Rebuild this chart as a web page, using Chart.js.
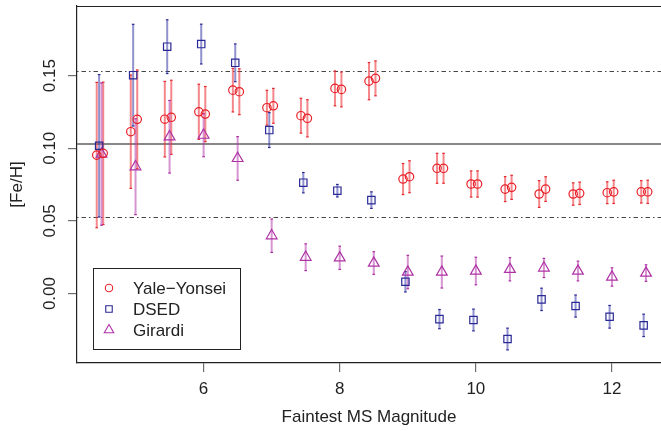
<!DOCTYPE html>
<html>
<head>
<meta charset="utf-8">
<style>
html,body{margin:0;padding:0;background:#fff;}
#wrap{width:661px;height:431px;position:relative;overflow:hidden;}
</style>
<script src="https://cdn.jsdelivr.net/npm/chart.js@4/dist/chart.umd.min.js"></script>
</head>
<body>
<div id="wrap"><canvas id="c" width="661" height="431"></canvas></div>
<script>
// ---------------- data ----------------
const magnitudes = [4.5, 5, 5.5, 6, 6.5, 7, 7.5, 8, 8.5, 9, 9.5, 10, 10.5, 11, 11.5, 12, 12.5];

// Yale-Yonsei (two estimates per magnitude)
const yaleA    = [0.0953, 0.1114, 0.1200, 0.1251, 0.1400, 0.1279, 0.1224, 0.1412, 0.1462, 0.0788, 0.0862, 0.0754, 0.0719, 0.0685, 0.0685, 0.0694, 0.0700];
const yaleAErr = [0.0500, 0.0390, 0.0260, 0.0190, 0.0150, 0.0120, 0.0120, 0.0120, 0.0128, 0.0107, 0.0103, 0.0090, 0.0086, 0.0092, 0.0077, 0.0075, 0.0077];
const yaleB    = [0.0965, 0.1199, 0.1213, 0.1235, 0.1389, 0.1292, 0.1206, 0.1405, 0.1481, 0.0804, 0.0862, 0.0754, 0.0731, 0.0719, 0.0690, 0.0700, 0.0700];
const yaleBErr = [0.0490, 0.0340, 0.0255, 0.0190, 0.0158, 0.0120, 0.0128, 0.0120, 0.0120, 0.0110, 0.0103, 0.0090, 0.0083, 0.0085, 0.0077, 0.0080, 0.0080];

// DSED
const dsed     = [0.1017, 0.1503, 0.1699, 0.1717, 0.1588, 0.1125, 0.0763, 0.0708, 0.0643, 0.0081, -0.0176, -0.0182, -0.0313, -0.0040, -0.0086, -0.0160, -0.0219];
const dsedErr  = [0.0490, 0.0350, 0.0185, 0.0137, 0.0130, 0.0120, 0.0070, 0.0043, 0.0057, 0.0070, 0.0066, 0.0075, 0.0075, 0.0077, 0.0076, 0.0078, 0.0077];

// Girardi
const girardi    = [0.0960, 0.0873, 0.1079, 0.1090, 0.0930, 0.0398, 0.0250, 0.0246, 0.0210, 0.0148, 0.0148, 0.0155, 0.0167, 0.0176, 0.0155, 0.0114, 0.0141];
const girardiErr = [0.0490, 0.0330, 0.0250, 0.0148, 0.0150, 0.0115, 0.0092, 0.0080, 0.0078, 0.0115, 0.0110, 0.0095, 0.0080, 0.0066, 0.0068, 0.0063, 0.0057];

const seriesNames = ["Yale\u2212Yonsei", "DSED", "Girardi"];

// reference levels
const meanLevel = [0.103];
const bandLevels = [0.153, 0.053];

// axes
const xTickValues = [6, 8, 10, 12];
const yTickValues = [0.00, 0.05, 0.10, 0.15];
const yTickLabels = ["0.00", "0.05", "0.10", "0.15"];
const xTitle = "Faintest MS Magnitude";
const yTitle = "[Fe/H]";

// ---------------- styling ----------------
const FONT = "'Liberation Sans', Arial, Helvetica, sans-serif";
const FS = 17;
const RED = 'rgb(232,32,40)', RED_BAR = 'rgba(238,55,62,0.6)', RED_CAP = 'rgb(225,40,45)';
const BLUE = 'rgb(40,40,150)', BLUE_BAR = 'rgba(55,55,165,0.55)', BLUE_CAP = 'rgb(40,40,150)';
const PURP = 'rgb(175,50,165)', PURP_BAR = 'rgba(180,60,170,0.55)', PURP_CAP = 'rgb(170,45,160)';

// small horizontal dodge so the series do not overlap (as in the reference)
const dodge = { yaleA: -0.07, yaleB: 0.025, dsed: -0.035, girardi: 0 };

function build(vals, errs, dx) {
  return magnitudes.map((m, i) => ({ x: m + dx, y: vals[i], err: errs[i] }));
}

const datasets = [
  { label: seriesNames[0], data: build(yaleA, yaleAErr, dodge.yaleA), pointStyle: 'circle', pointRadius: 4.2,
    borderColor: RED, backgroundColor: 'rgba(0,0,0,0)', pointBorderWidth: 1.2, barColor: RED_BAR, capColor: RED_CAP, showInLegend: true },
  { label: seriesNames[0], data: build(yaleB, yaleBErr, dodge.yaleB), pointStyle: 'circle', pointRadius: 4.2,
    borderColor: RED, backgroundColor: 'rgba(0,0,0,0)', pointBorderWidth: 1.2, barColor: RED_BAR, capColor: RED_CAP, showInLegend: false },
  { label: seriesNames[1], data: build(dsed, dsedErr, dodge.dsed), pointStyle: 'rect', pointRadius: 5.2,
    borderColor: BLUE, backgroundColor: 'rgba(0,0,0,0)', pointBorderWidth: 1.2, barColor: BLUE_BAR, capColor: BLUE_CAP, showInLegend: true },
  { label: seriesNames[2], data: build(girardi, girardiErr, dodge.girardi), pointStyle: 'triangle', pointRadius: 6.2,
    borderColor: PURP, backgroundColor: 'rgba(0,0,0,0)', pointBorderWidth: 1.2, barColor: PURP_BAR, capColor: PURP_CAP, showInLegend: true }
];

// ---------------- plugins ----------------
const refLinesPlugin = {
  id: 'refLines',
  beforeDatasetsDraw(chart) {
    const { ctx, chartArea: a, scales: { y } } = chart;
    ctx.save();
    ctx.beginPath(); ctx.rect(a.left, a.top, a.right - a.left, a.bottom - a.top); ctx.clip();
    meanLevel.forEach(v => {
      const py = y.getPixelForValue(v);
      ctx.strokeStyle = 'rgb(135,135,135)'; ctx.lineWidth = 2; ctx.setLineDash([]);
      ctx.beginPath(); ctx.moveTo(a.left, py); ctx.lineTo(a.right, py); ctx.stroke();
    });
    bandLevels.forEach(v => {
      const py = Math.round(y.getPixelForValue(v)) + 0.5;
      ctx.strokeStyle = 'rgb(70,70,70)'; ctx.lineWidth = 1; ctx.setLineDash([1.5, 3, 4.5, 3]);
      ctx.beginPath(); ctx.moveTo(a.left, py); ctx.lineTo(a.right, py); ctx.stroke();
    });
    ctx.restore();
  }
};

const errorBarsPlugin = {
  id: 'errorBars',
  beforeDatasetsDraw(chart) {
    const { ctx, scales: { x, y } } = chart;
    ctx.save();
    chart.data.datasets.forEach(ds => {
      ds.data.forEach(p => {
        const px = x.getPixelForValue(p.x);
        const y1 = y.getPixelForValue(p.y - p.err);
        const y2 = y.getPixelForValue(p.y + p.err);
        ctx.strokeStyle = ds.barColor; ctx.lineWidth = 2; ctx.setLineDash([]);
        ctx.beginPath(); ctx.moveTo(px, y1); ctx.lineTo(px, y2); ctx.stroke();
        ctx.strokeStyle = ds.capColor; ctx.lineWidth = 1.2;
        [y1, y2].forEach(yy => {
          ctx.beginPath(); ctx.moveTo(px - 1.3, yy); ctx.lineTo(px + 1.3, yy); ctx.stroke();
        });
      });
    });
    ctx.restore();
  }
};

const frameAndLabelsPlugin = {
  id: 'frameAndLabels',
  afterDraw(chart) {
    const { ctx, chartArea: a, scales: { y } } = chart;
    ctx.save();
    // top frame line
    ctx.strokeStyle = '#222'; ctx.lineWidth = 1.2;
    ctx.beginPath(); ctx.moveTo(a.left, a.top + 0.5); ctx.lineTo(a.right, a.top + 0.5); ctx.stroke();
    // rotated y tick labels (R style, parallel to axis)
    ctx.fillStyle = '#222';
    ctx.font = FS + 'px ' + FONT;
    ctx.textAlign = 'center'; ctx.textBaseline = 'middle';
    yTickValues.forEach((v, i) => {
      const py = y.getPixelForValue(v);
      ctx.save(); ctx.translate(50, py); ctx.rotate(-Math.PI / 2);
      ctx.fillText(yTickLabels[i], 0, 0);
      ctx.restore();
    });
    // legend box
    const lx = 93.5, ly = 268.5, lw = 147, lh = 81;
    ctx.fillStyle = '#fff'; ctx.fillRect(lx, ly, lw, lh);
    ctx.strokeStyle = '#222'; ctx.lineWidth = 1; ctx.strokeRect(lx, ly, lw, lh);
    const items = chart.data.datasets.filter(d => d.showInLegend);
    items.forEach((d, i) => {
      const rowY = 288 + i * 21;
      ctx.strokeStyle = d.borderColor; ctx.fillStyle = 'rgba(0,0,0,0)'; ctx.lineWidth = 1.1;
      Chart.helpers.drawPoint(ctx, { pointStyle: d.pointStyle, radius: d.pointRadius * 0.88, rotation: 0, borderWidth: 1.1 }, 109, rowY);
      ctx.fillStyle = '#222';
      ctx.font = FS + 'px ' + FONT; ctx.textAlign = 'left'; ctx.textBaseline = 'middle';
      ctx.fillText(d.label, 133, rowY + 1);
    });
    ctx.restore();
  }
};

// ---------------- chart ----------------
new Chart(document.getElementById('c'), {
  type: 'scatter',
  data: { datasets },
  options: {
    responsive: false,
    devicePixelRatio: 1,
    animation: false,
    layout: { autoPadding: false, padding: { top: 6, right: 0, bottom: 0, left: 0 } },
    plugins: { legend: { display: false }, tooltip: { enabled: false } },
    elements: { point: { hoverRadius: 4 } },
    scales: {
      x: {
        type: 'linear', min: 4.14, max: 12.72,
        afterBuildTicks: s => { s.ticks = xTickValues.map(v => ({ value: v })); },
        afterFit: s => { s.height = 68; s.paddingLeft = 0; s.paddingRight = 0; },
        grid: { display: true, drawOnChartArea: false, drawTicks: true, tickLength: 9, color: 'rgb(110,110,110)', lineWidth: 1.2 },
        border: { display: true, color: '#222', width: 1.2 },
        ticks: { color: '#222', font: { size: FS, family: FONT }, padding: 7, maxRotation: 0, minRotation: 0,
                 callback: v => String(v) },
        title: { display: true, text: xTitle, color: '#222', font: { size: FS, family: FONT }, padding: { top: 0, bottom: 3 } }
      },
      y: {
        type: 'linear', min: -0.0478, max: 0.1979,
        afterBuildTicks: s => { s.ticks = yTickValues.map(v => ({ value: v })); },
        afterFit: s => { s.width = 77; s.paddingTop = 0; s.paddingBottom = 0; },
        grid: { display: true, drawOnChartArea: false, drawTicks: true, tickLength: 9, color: 'rgb(110,110,110)', lineWidth: 1.2 },
        border: { display: true, color: '#222', width: 1.2 },
        ticks: { display: false },
        title: { display: true, text: yTitle, color: '#222', font: { size: FS, family: FONT }, padding: { top: 7, bottom: 0 } }
      }
    }
  },
  plugins: [refLinesPlugin, errorBarsPlugin, frameAndLabelsPlugin]
});
</script>
</body>
</html>
